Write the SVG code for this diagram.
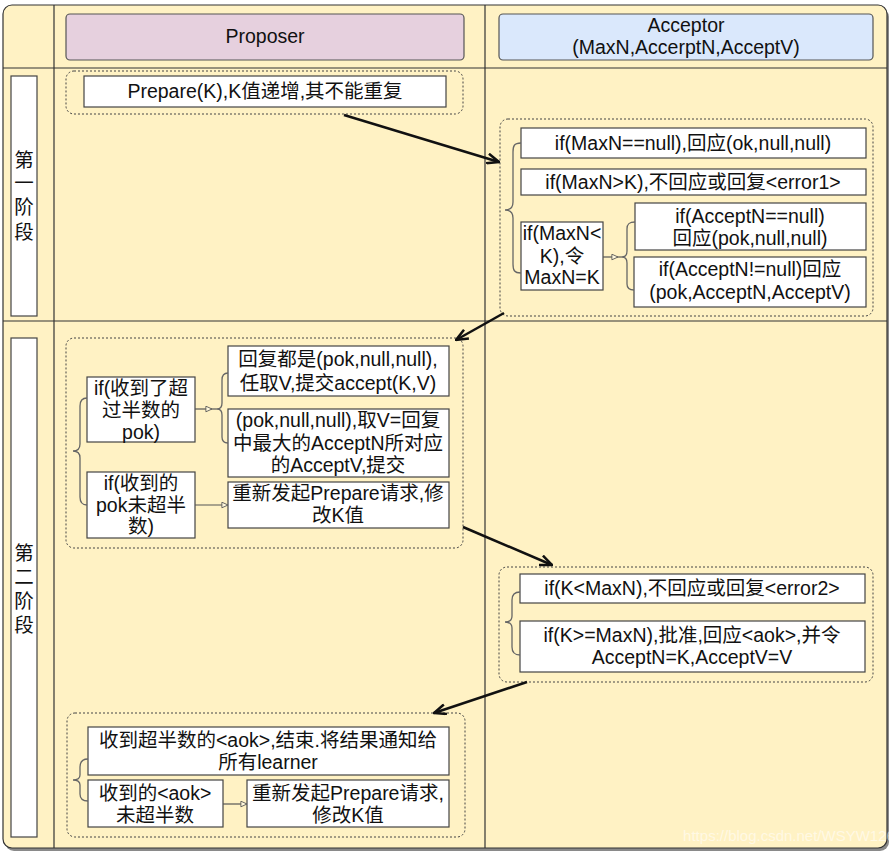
<svg xmlns="http://www.w3.org/2000/svg" width="896" height="857" viewBox="0 0 896 857">
<defs>
<style>
text{font-family:"Liberation Sans","Noto Sans CJK SC",Arial,sans-serif;font-size:19.5px;fill:#111;text-anchor:middle}
.box{fill:#fff;stroke:#444;stroke-width:1.2}
.grp{fill:none;stroke:#444;stroke-width:1;stroke-dasharray:2 2}
.brace{fill:none;stroke:#666;stroke-width:1.3}
.frame{stroke:#333;stroke-width:1.2}
.arr{fill:none;stroke:#111;stroke-width:2.5}
.con{fill:none;stroke:#555;stroke-width:1.2}
.wm{fill:#fff;opacity:0.55;font-size:15px}
</style>
<marker id="open" viewBox="0 0 14 12" refX="13" refY="6" markerWidth="14" markerHeight="12" markerUnits="userSpaceOnUse" orient="auto">
<path d="M1,1 L13,6 L1,11" fill="none" stroke="#111" stroke-width="2.5"/>
</marker>
<marker id="tri" viewBox="0 0 8 8" refX="7.5" refY="4" markerWidth="7" markerHeight="7" markerUnits="userSpaceOnUse" orient="auto">
<path d="M0.5,0.8 L7.5,4 L0.5,7.2 Z" fill="#fff8dc" stroke="#555" stroke-width="1"/>
</marker>
</defs>

<g id="background">
<rect x="5" y="8" width="884" height="843" rx="9" fill="#8a8a8a"/>
<rect x="3" y="5" width="884" height="843" rx="9" fill="#fff2c4" stroke="#333" stroke-width="1.2"/>
<line class="frame" x1="54" y1="5" x2="54" y2="848"/>
<line class="frame" x1="485" y1="5" x2="485" y2="848"/>
<line class="frame" x1="3" y1="68" x2="887" y2="68"/>
<line class="frame" x1="3" y1="321" x2="887" y2="321"/>
<text class="wm" x="789" y="841">https://blog.csdn.net/WSYW126</text>
</g>

<g id="header-proposer">
<rect x="66" y="14" width="398" height="46" rx="4" fill="#e6d0de" stroke="#555" stroke-width="1.2"/>
<text x="265" y="43">Proposer</text>
</g>
<g id="header-acceptor">
<rect x="499" y="14" width="374" height="46" rx="4" fill="#dae8fc" stroke="#555" stroke-width="1.2"/>
<text x="686" y="32">Acceptor</text>
<text x="686" y="54">(MaxN,AccerptN,AcceptV)</text>
</g>

<g id="phase1-label">
<rect class="box" x="11" y="76" width="26" height="240"/>
<text x="24" y="167">第</text>
<text x="24" y="190">一</text>
<text x="24" y="214">阶</text>
<text x="24" y="239">段</text>
</g>
<g id="phase2-label">
<rect class="box" x="11" y="338" width="26" height="499"/>
<text x="24" y="560">第</text>
<text x="24" y="584">二</text>
<text x="24" y="608">阶</text>
<text x="24" y="632">段</text>
</g>

<g id="p1-proposer">
<rect class="grp" x="66" y="71" width="397" height="43" rx="8"/>
<rect class="box" x="84" y="76" width="362" height="31"/>
<text x="265" y="98">Prepare(K),K值递增,其不能重复</text>
</g>

<g id="p1-acceptor">
<rect class="grp" x="500" y="119" width="373" height="197" rx="8"/>
<rect class="box" x="521" y="128" width="345" height="30"/>
<text x="693" y="150">if(MaxN==null),回应(ok,null,null)</text>
<rect class="box" x="521" y="169" width="345" height="26"/>
<text x="693" y="189">if(MaxN&gt;K),不回应或回复&lt;error1&gt;</text>
<rect class="box" x="521" y="222" width="82" height="68"/>
<text x="562" y="240">if(MaxN&lt;</text>
<text x="562" y="263">K),令</text>
<text x="562" y="284">MaxN=K</text>
<rect class="box" x="635" y="203" width="231" height="47"/>
<text x="750" y="223">if(AcceptN==null)</text>
<text x="750" y="245">回应(pok,null,null)</text>
<rect class="box" x="634" y="257" width="232" height="50"/>
<text x="750" y="276">if(AcceptN!=null)回应</text>
<text x="750" y="299">(pok,AcceptN,AcceptV)</text>
<path class="brace" d="M521,143 C514,143 513,146 513,152 L513,202 C513,207 511,210 505,210 C511,210 513,213 513,218 L513,264 C513,270 514,273 521,273"/>
<path class="brace" d="M635,222 C629,222 627,224 627,229 L627,251 C627,255 626,257 622,257 C626,257 627,259 627,263 L627,284 C627,288 629,290 634,290"/>
</g>

<g id="p2-proposer">
<rect class="grp" x="66" y="338" width="397" height="210" rx="8"/>
<rect class="box" x="87" y="377" width="108" height="65"/>
<text x="141" y="395">if(收到了超</text>
<text x="141" y="417">过半数的</text>
<text x="141" y="439">pok)</text>
<rect class="box" x="87" y="472" width="108" height="66"/>
<text x="141" y="490">if(收到的</text>
<text x="141" y="512">pok未超半</text>
<text x="141" y="533">数)</text>
<rect class="box" x="228" y="346" width="221" height="50"/>
<text x="338" y="366">回复都是(pok,null,null),</text>
<text x="338" y="390">任取V,提交accept(K,V)</text>
<rect class="box" x="228" y="409" width="221" height="68"/>
<text x="338" y="427">(pok,null,null),取V=回复</text>
<text x="338" y="450">中最大的AcceptN所对应</text>
<text x="338" y="472">的AcceptV,提交</text>
<rect class="box" x="228" y="482" width="221" height="46"/>
<text x="338" y="500">重新发起Prepare请求,修</text>
<text x="338" y="522">改K值</text>
<path class="brace" d="M87,398 C82,398 80,401 80,406 L80,444 C80,449 78,451 73,451 C78,451 80,453 80,458 L80,497 C80,502 82,505 87,505"/>
<path class="brace" d="M228,373 C224,373 222,375 222,380 L222,403 C222,407 221,409 217,409 C221,409 222,411 222,415 L222,437 C222,441 224,443 228,443"/>
</g>

<g id="p2-acceptor">
<rect class="grp" x="499" y="567" width="374" height="115" rx="8"/>
<rect class="box" x="520" y="574" width="345" height="29"/>
<text x="692" y="595">if(K&lt;MaxN),不回应或回复&lt;error2&gt;</text>
<rect class="box" x="520" y="621" width="345" height="51"/>
<text x="692" y="642">if(K&gt;=MaxN),批准,回应&lt;aok&gt;,并令</text>
<text x="692" y="664">AcceptN=K,AcceptV=V</text>
<path class="brace" d="M520,592 C514,592 512,595 512,600 L512,616 C512,620 510,622 505,622 C510,622 512,624 512,628 L512,647 C512,652 514,655 520,655"/>
</g>

<g id="p2-proposer-final">
<rect class="grp" x="67" y="713" width="398" height="124" rx="8"/>
<rect class="box" x="88" y="727" width="361" height="48"/>
<text x="268" y="747">收到超半数的&lt;aok&gt;,结束.将结果通知给</text>
<text x="268" y="769">所有learner</text>
<rect class="box" x="88" y="780" width="135" height="47"/>
<text x="155" y="800">收到的&lt;aok&gt;</text>
<text x="155" y="822">未超半数</text>
<rect class="box" x="247" y="780" width="202" height="47"/>
<text x="348" y="800">重新发起Prepare请求,</text>
<text x="348" y="822">修改K值</text>
<path class="brace" d="M88,759 C83,759 80,762 80,767 L80,775 C80,778 78,780 73,780 C78,780 80,782 80,785 L80,794 C80,799 83,801 88,801"/>
</g>

<g id="connectors">
<line class="arr" x1="344" y1="115" x2="499" y2="162" marker-end="url(#open)"/>
<line class="arr" x1="504" y1="313" x2="456" y2="340" marker-end="url(#open)"/>
<line class="arr" x1="463" y1="527" x2="552" y2="565" marker-end="url(#open)"/>
<line class="arr" x1="527" y1="682" x2="434" y2="713" marker-end="url(#open)"/>
<path class="con" d="M603,257 H618" marker-end="url(#tri)"/>
<path class="con" d="M618,257 H622"/>
<path class="con" d="M195,409 H212" marker-end="url(#tri)"/>
<path class="con" d="M212,409 H217"/>
<path class="con" d="M195,505 H228" marker-end="url(#tri)"/>
<path class="con" d="M223,804 H247" marker-end="url(#tri)"/>
</g>
</svg>
